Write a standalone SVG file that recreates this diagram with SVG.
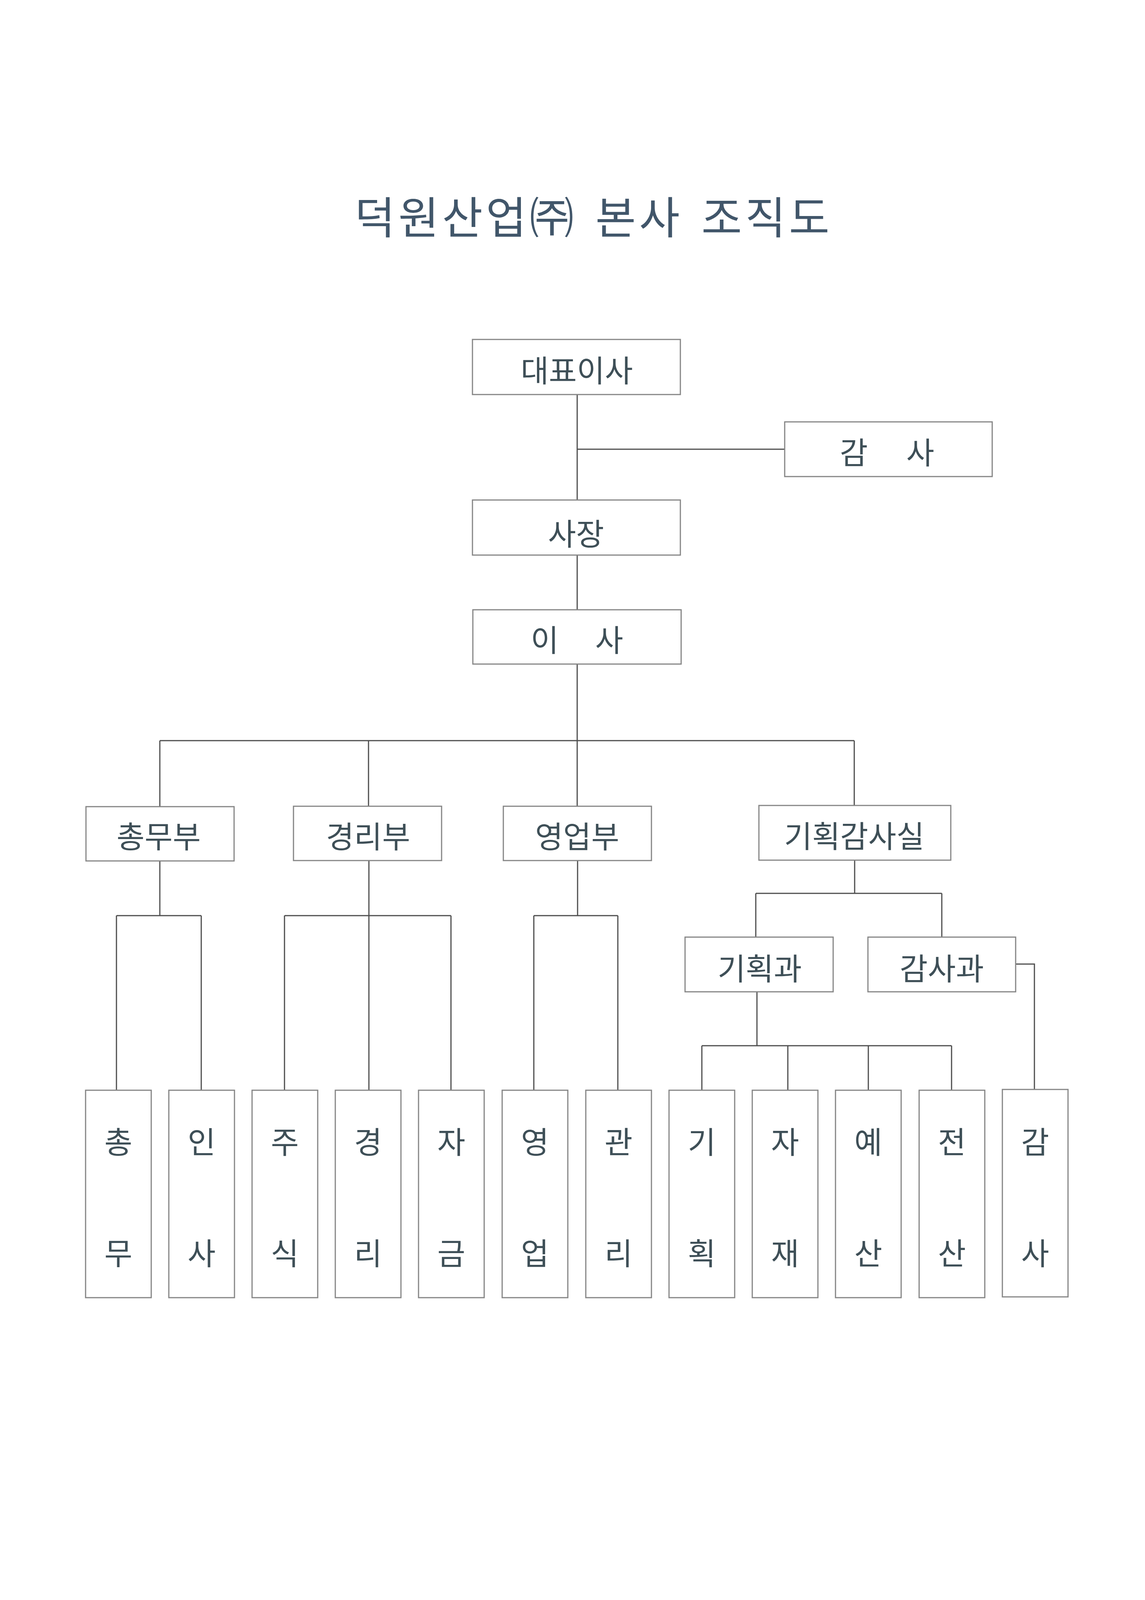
<svg xmlns="http://www.w3.org/2000/svg" width="2930" height="4142" viewBox="0 0 2930 4142">
<style>
.bg{fill:#ffffff}
.box{fill:#ffffff;stroke:#858585;stroke-width:3}
.conn{fill:none;stroke:#4d4d4d;stroke-width:3}
.lbl{font-family:"Noto Sans CJK KR","Noto Sans CJK SC",sans-serif;font-size:78px;fill:#3e4f57;text-anchor:middle}
.title{font-family:"Noto Sans CJK KR","Noto Sans CJK SC",sans-serif;font-size:113px;fill:#41566a;text-anchor:middle;word-spacing:14px;letter-spacing:8px}
</style>
<rect class="bg" x="0" y="0" width="2930" height="4142"/>
<text id="title" class="title" x="1519" y="598">덕원산업㈜ 본사 조직도</text>

<g id="connectors">
<path class="conn" d="M1477 1010 V1280 M1477 1150 H2008 M1477 1421 V1561 M1477 1700 V2064"/>
<path class="conn" d="M409 1896 H2186 M409 1896 V2065 M943 1896 V2064 M2186 1896 V2062"/>
<path class="conn" d="M409 2204 V2344 M298 2344 H515 M298 2344 V2791 M515 2344 V2791"/>
<path class="conn" d="M944 2203 V2791 M728 2344 H1154 M728 2344 V2791 M1154 2344 V2791"/>
<path class="conn" d="M1478 2203 V2344 M1366 2344 H1581 M1366 2344 V2791 M1581 2344 V2791"/>
<path class="conn" d="M2187 2202 V2287 M1934 2287 H2410 M1934 2287 V2399 M2410 2287 V2399"/>
<path class="conn" d="M1937 2539 V2677 M1796 2677 H2435 M1796 2677 V2791 M2016 2677 V2791 M2222 2677 V2791 M2435 2677 V2791"/>
<path class="conn" d="M2599 2468 H2647 V2789"/>
</g>

<g id="n-ceo"><rect class="box" x="1209" y="869" width="532" height="141"/><text class="lbl" x="1476" y="978">대표이사</text></g>
<g id="n-auditor"><rect class="box" x="2008" y="1080" width="531" height="140"/><text class="lbl" x="2185 2270 2355" y="1188">감 사</text></g>
<g id="n-president"><rect class="box" x="1209" y="1280" width="532" height="141"/><text class="lbl" x="1474" y="1396">사장</text></g>
<g id="n-director"><rect class="box" x="1210" y="1561" width="533" height="139"/><text class="lbl" x="1394 1476 1559" y="1668">이 사</text></g>

<g id="n-general"><rect class="box" x="220" y="2065" width="379" height="139"/><text class="lbl" x="406" y="2171">총무부</text></g>
<g id="n-accounting"><rect class="box" x="751" y="2064" width="379" height="139"/><text class="lbl" x="942" y="2171">경리부</text></g>
<g id="n-sales"><rect class="box" x="1288" y="2064" width="379" height="139"/><text class="lbl" x="1477" y="2171">영업부</text></g>
<g id="n-planaudit"><rect class="box" x="1942" y="2062" width="491" height="140"/><text class="lbl" x="2186" y="2170">기획감사실</text></g>

<g id="n-planning"><rect class="box" x="1753" y="2399" width="379" height="140"/><text class="lbl" x="1944" y="2509">기획과</text></g>
<g id="n-audit"><rect class="box" x="2221" y="2399" width="378" height="140"/><text class="lbl" x="2410" y="2509">감사과</text></g>

<g id="t-chongmu"><rect class="box" x="219" y="2791" width="168" height="531"/><text class="lbl"><tspan x="303" y="2953">총</tspan><tspan x="303" y="3238">무</tspan></text></g>
<g id="t-insa"><rect class="box" x="432" y="2791" width="168" height="531"/><text class="lbl"><tspan x="516" y="2953">인</tspan><tspan x="516" y="3238">사</tspan></text></g>
<g id="t-jusik"><rect class="box" x="645" y="2791" width="168" height="531"/><text class="lbl"><tspan x="729" y="2953">주</tspan><tspan x="729" y="3238">식</tspan></text></g>
<g id="t-gyeongri"><rect class="box" x="858" y="2791" width="168" height="531"/><text class="lbl"><tspan x="942" y="2953">경</tspan><tspan x="942" y="3238">리</tspan></text></g>
<g id="t-jageum"><rect class="box" x="1071" y="2791" width="168" height="531"/><text class="lbl"><tspan x="1155" y="2953">자</tspan><tspan x="1155" y="3238">금</tspan></text></g>
<g id="t-yeongeop"><rect class="box" x="1285" y="2791" width="168" height="531"/><text class="lbl"><tspan x="1369" y="2953">영</tspan><tspan x="1369" y="3238">업</tspan></text></g>
<g id="t-gwanri"><rect class="box" x="1499" y="2791" width="168" height="531"/><text class="lbl"><tspan x="1583" y="2953">관</tspan><tspan x="1583" y="3238">리</tspan></text></g>
<g id="t-gihoek"><rect class="box" x="1712" y="2791" width="168" height="531"/><text class="lbl"><tspan x="1796" y="2953">기</tspan><tspan x="1796" y="3238">획</tspan></text></g>
<g id="t-jajae"><rect class="box" x="1925" y="2791" width="168" height="531"/><text class="lbl"><tspan x="2009" y="2953">자</tspan><tspan x="2009" y="3238">재</tspan></text></g>
<g id="t-yesan"><rect class="box" x="2138" y="2791" width="168" height="531"/><text class="lbl"><tspan x="2222" y="2953">예</tspan><tspan x="2222" y="3238">산</tspan></text></g>
<g id="t-jeonsan"><rect class="box" x="2352" y="2791" width="168" height="531"/><text class="lbl"><tspan x="2436" y="2953">전</tspan><tspan x="2436" y="3238">산</tspan></text></g>
<g id="t-gamsa"><rect class="box" x="2565" y="2789" width="168" height="531"/><text class="lbl"><tspan x="2649" y="2953">감</tspan><tspan x="2649" y="3238">사</tspan></text></g>
</svg>
